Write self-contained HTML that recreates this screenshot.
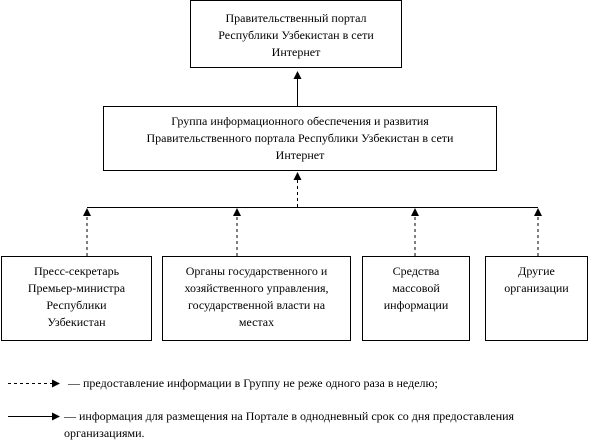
<!DOCTYPE html>
<html><head><meta charset="utf-8"><style>
body{margin:0;width:607px;height:447px;background:#fff;position:relative;font-family:"Liberation Serif",serif;font-size:12px;color:#000;overflow:hidden}
.b{position:absolute;border:1px solid #000;box-sizing:border-box;text-align:center;line-height:17px}
.t{position:absolute;white-space:nowrap;line-height:17px}
svg{position:absolute;left:0;top:0}
</style></head><body>
<svg width="607" height="447">
<defs><marker id="a" markerWidth="8" markerHeight="8" refX="4" refY="4" orient="auto" markerUnits="userSpaceOnUse"><path d="M0,0 L8,4 L0,8z"/></marker></defs>
<g stroke="#000" stroke-width="1" fill="none">
<line x1="297.5" y1="106" x2="297.5" y2="75" marker-end="url(#a)"/>
<line x1="297.5" y1="207" x2="297.5" y2="176" stroke-dasharray="3,3" marker-end="url(#a)"/>
<line x1="87" y1="207.5" x2="538" y2="207.5"/>
<line x1="87" y1="256" x2="87" y2="212" stroke-dasharray="3,3" marker-end="url(#a)"/>
<line x1="237" y1="256" x2="237" y2="212" stroke-dasharray="3,3" marker-end="url(#a)"/>
<line x1="415" y1="256" x2="415" y2="212" stroke-dasharray="3,3" marker-end="url(#a)"/>
<line x1="538" y1="256" x2="538" y2="212" stroke-dasharray="3,3" marker-end="url(#a)"/>
<line x1="8" y1="383.5" x2="56" y2="383.5" stroke-dasharray="3,3" marker-end="url(#a)"/>
<line x1="8" y1="416.5" x2="56" y2="416.5" marker-end="url(#a)"/>
</g></svg>
<div class="b" style="left:190px;top:0;width:212px;height:68px;padding-top:9px">Правительственный портал<br>Республики Узбекистан в сети<br>Интернет</div>
<div class="b" style="left:103px;top:106px;width:394px;height:65px;padding-top:6px">Группа информационного обеспечения и развития<br>Правительственного портала Республики Узбекистан в сети<br>Интернет</div>
<div class="b" style="left:1px;top:256px;width:151px;height:85px;padding-top:6px">Пресс-секретарь<br>Премьер-министра<br>Республики<br>Узбекистан</div>
<div class="b" style="left:162px;top:256px;width:189px;height:85px;padding-top:6px">Органы государственного и<br>хозяйственного управления,<br>государственной власти на<br>местах</div>
<div class="b" style="left:362px;top:256px;width:108px;height:85px;padding-top:6px">Средства<br>массовой<br>информации</div>
<div class="b" style="left:485px;top:256px;width:103px;height:85px;padding-top:6px">Другие<br>организации</div>
<div class="t" style="left:68px;top:375px">— предоставление информации в Группу не реже одного раза в неделю;</div>
<div class="t" style="left:64px;top:408px">— информация для размещения на Портале в однодневный срок со дня предоставления</div>
<div class="t" style="left:64px;top:425px">организациями.</div>
</body></html>
